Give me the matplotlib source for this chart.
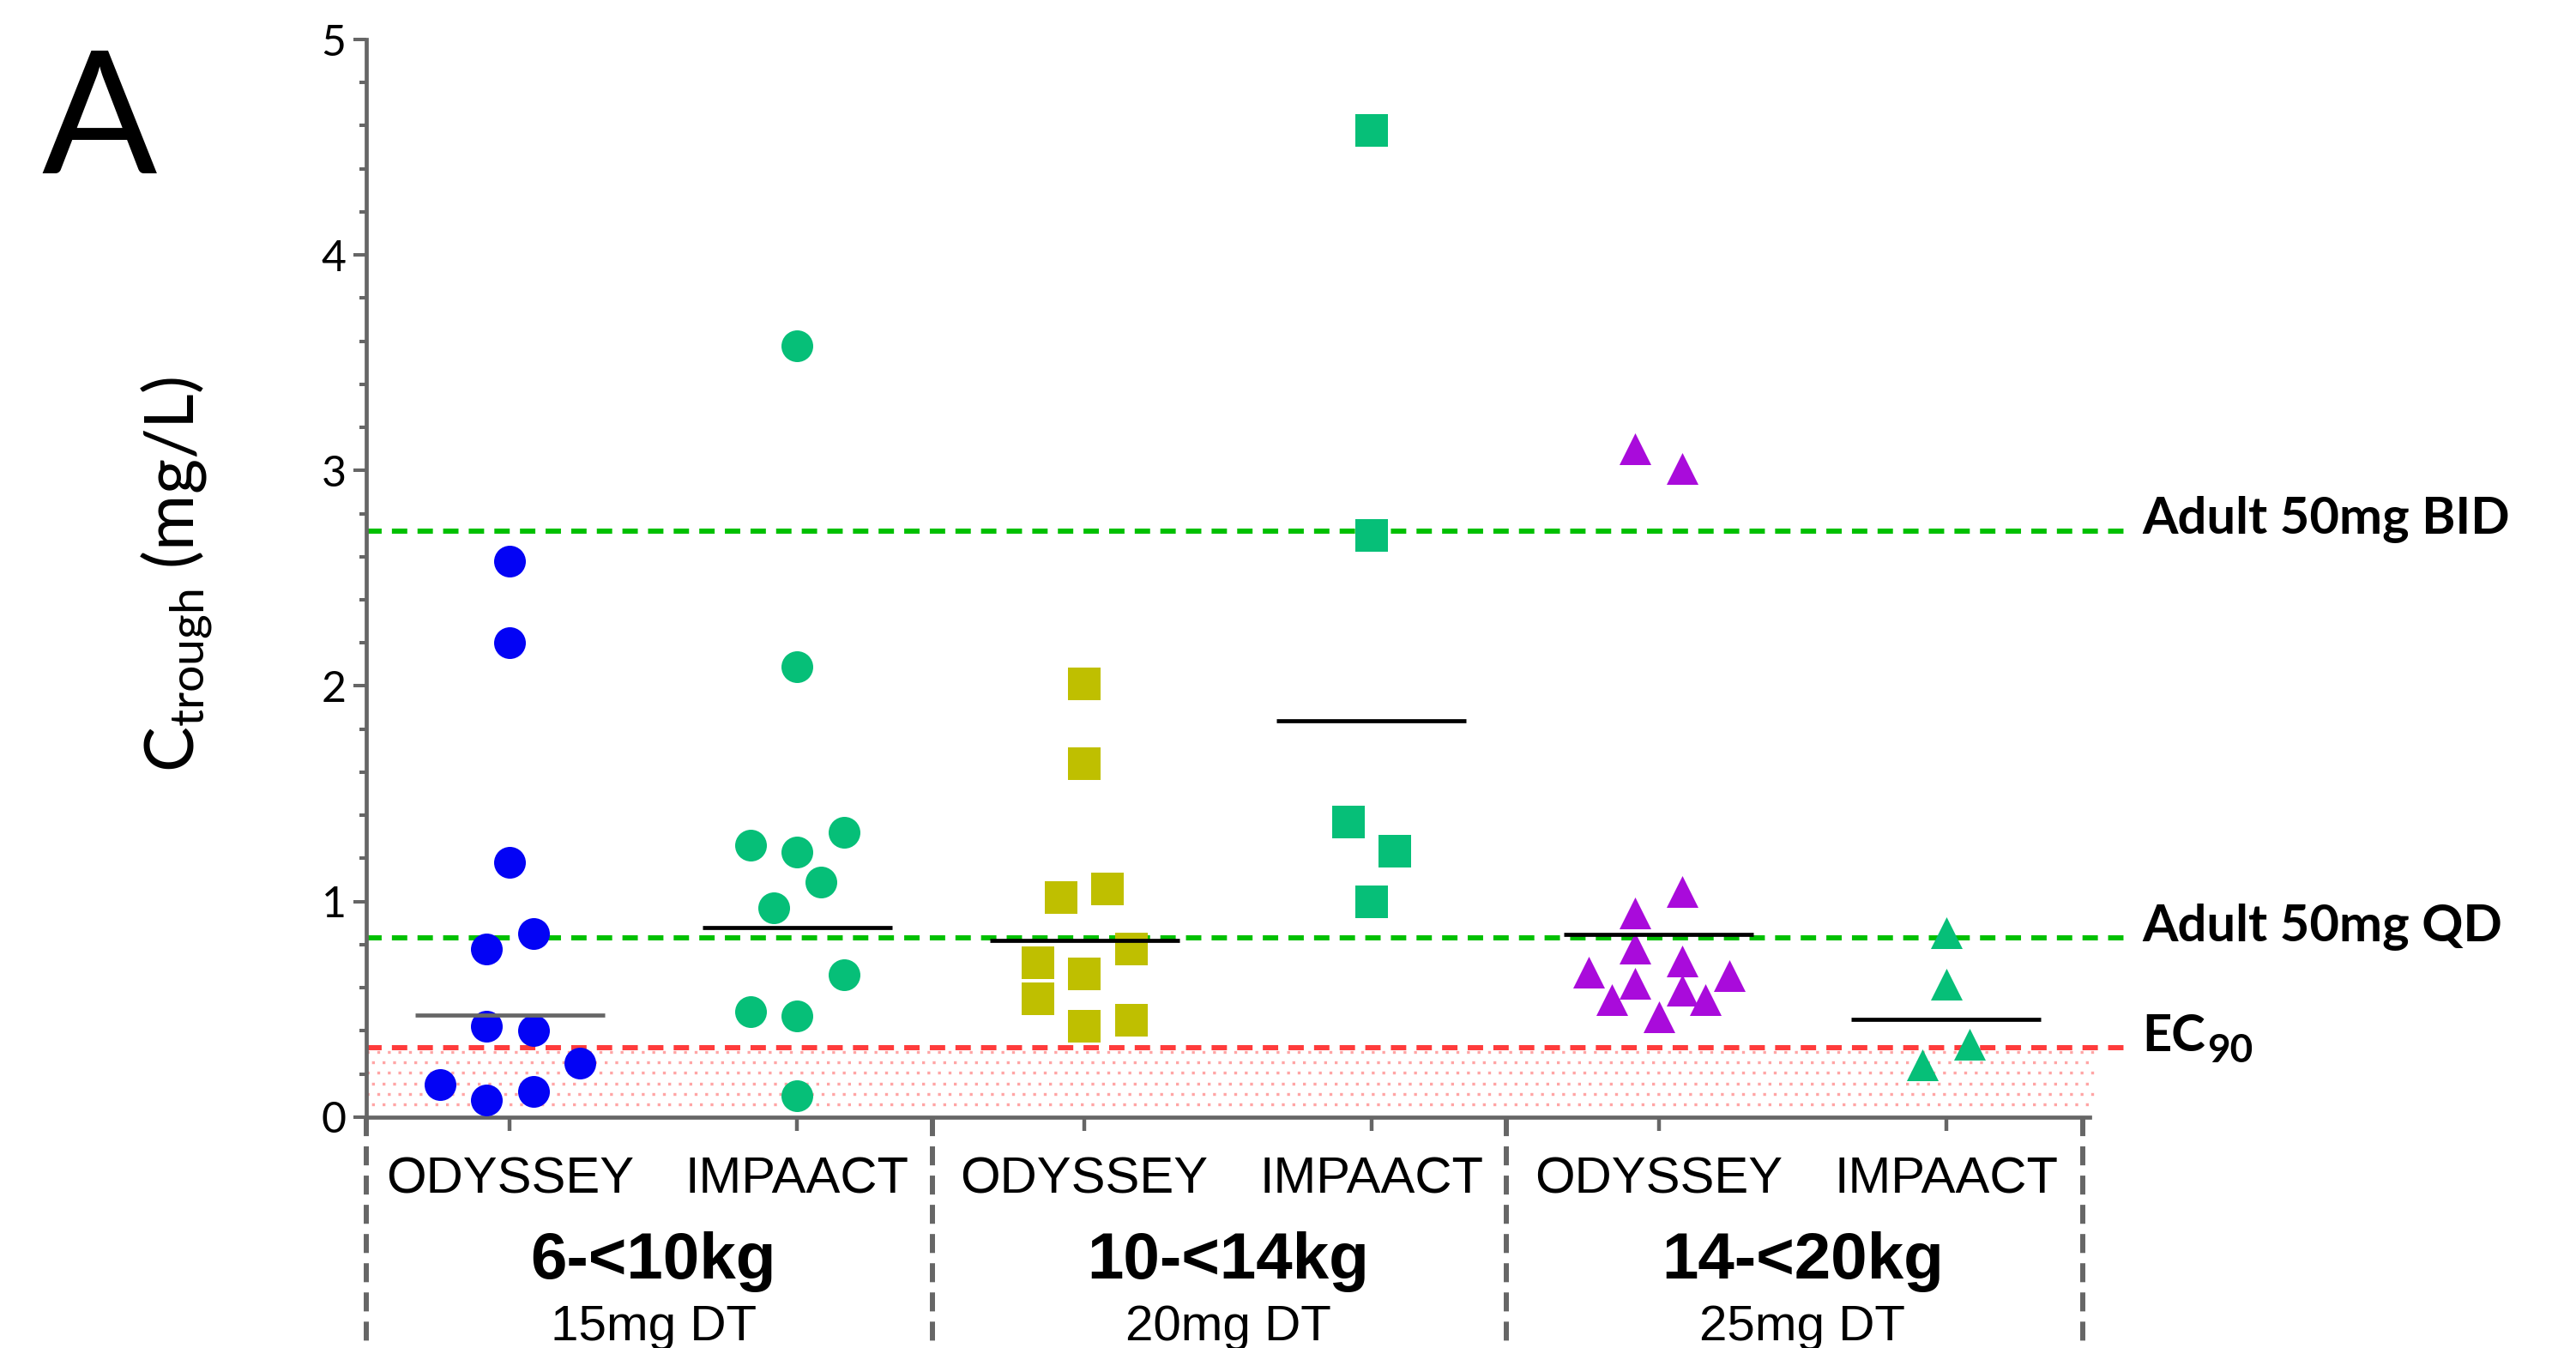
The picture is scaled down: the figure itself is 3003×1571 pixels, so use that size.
import numpy as np
import matplotlib
matplotlib.use("Agg")
import matplotlib.pyplot as plt
from matplotlib import transforms

plt.rcParams["mathtext.fontset"] = "custom"
plt.rcParams["mathtext.rm"] = "Lato"
plt.rcParams["mathtext.bf"] = "Lato:bold"
plt.rcParams["mathtext.it"] = "Lato:italic"

# Ctrough values (mg/L) per study / weight band
ody_6_10 = [2.58, 2.20, 1.18, 0.85, 0.78, 0.42, 0.40, 0.25, 0.15, 0.08, 0.12]
imp_6_10 = [3.58, 2.09, 1.32, 1.26, 1.23, 1.09, 0.97, 0.66, 0.49, 0.47, 0.10]
ody_10_14 = [2.01, 1.64, 1.06, 1.02, 0.78, 0.715, 0.665, 0.55, 0.45, 0.42]
imp_10_14 = [4.58, 2.70, 1.37, 1.235, 1.00]
ody_14_20 = [3.10, 3.01, 1.046, 0.945, 0.783, 0.722, 0.673, 0.657, 0.621, 0.587,
             0.544, 0.543, 0.465]
imp_14_20 = [0.854, 0.615, 0.336, 0.241]

# horizontal jitter slot of each point (scatter-dot-plot layout)
ody_6_10_slot = [0, 0, 0, 1, -1, -1, 1, 3, -3, -1, 1]
imp_6_10_slot = [0, 0, 2, -2, 0, 1, -1, 2, -2, 0, 0]
ody_10_14_slot = [0, 0, 1, -1, 2, -2, 0, -2, 2, 0]
imp_10_14_slot = [0, 0, -1, 1, 0]
ody_14_20_slot = [-1, 1, 1, -1, -1, 1, -3, 3, -1, 1, -2, 2, 0]
imp_14_20_slot = [0, 0, 1, -1]

studies = ["ODYSSEY", "IMPAACT", "ODYSSEY", "IMPAACT", "ODYSSEY", "IMPAACT"]
bands = ["6-<10kg", "10-<14kg", "14-<20kg"]
doses = ["15mg DT", "20mg DT", "25mg DT"]

ref_labels = ["Adult 50mg BID", "Adult 50mg QD", "EC"]
ref_subs = ["", "", "90"]
ref_values = [2.72, 0.83, 0.32]

groups = [ody_6_10, imp_6_10, ody_10_14, imp_10_14, ody_14_20, imp_14_20]
slots = [ody_6_10_slot, imp_6_10_slot, ody_10_14_slot, imp_10_14_slot,
         ody_14_20_slot, imp_14_20_slot]
markers = ["o", "o", "s", "s", "^", "^"]
colors = ["#0303F5", "#06BF78", "#BFBF00", "#06BF78", "#A90BDB", "#06BF78"]
mean_colors = ["#666666", "black", "black", "black", "black", "black"]

fig = plt.figure(figsize=(30.03, 15.71), dpi=100)
ax = fig.add_axes([0.1422, 0.1714, 0.6690, 0.7993])
ax.set_xlim(-0.5, 5.5)
ax.set_ylim(0, 5)

# shaded (dotted) area below EC90
for k in range(6):
    yrow = ref_values[2] - 0.018 - 0.0487 * k
    off = 0 if k % 2 == 0 else 1.85
    ax.plot([-0.5, 5.52], [yrow, yrow], color="#FFA5A5", lw=2.4,
            ls=(off, (1, 2.7)), dash_capstyle="butt",
            clip_on=False, zorder=1)

# reference lines
ref_colors = ["#00C000", "#00C000", "#FF3B3B"]
for v, c in zip(ref_values, ref_colors):
    ax.plot([-0.5, 5.62], [v, v], color=c, lw=4.3, ls=(0, (3, 2)),
            dash_capstyle="butt", clip_on=False, zorder=2)

# points + geometric mean bars
step = 0.0815
for i, (vals, sl) in enumerate(zip(groups, slots)):
    xs = i + step * np.array(sl)
    ax.scatter(xs, vals, s=710, marker=markers[i], color=colors[i],
               linewidths=0, zorder=3, clip_on=False)
    gm = np.exp(np.mean(np.log(vals)))
    ax.plot([i - 0.33, i + 0.33], [gm, gm], color=mean_colors[i], lw=3.4,
            solid_capstyle="butt", zorder=4)

# axes styling
for s in ["top", "right"]:
    ax.spines[s].set_visible(False)
for s in ["left", "bottom"]:
    ax.spines[s].set_color("#666666")
    ax.spines[s].set_linewidth(3.4)

ax.set_yticks(range(6))
ax.set_yticks(np.arange(0, 5.01, 0.2), minor=True)
ax.tick_params(axis="y", which="major", length=10.8, width=2.9, color="#666666",
               labelsize=36, pad=6)
ax.tick_params(axis="y", which="minor", length=5.8, width=2.9, color="#666666")
for t in ax.get_yticklabels():
    t.set_fontfamily("Lato")
ax.set_xticks(range(6))
ax.tick_params(axis="x", length=11.5, width=3.2, color="#666666", labelbottom=False)

# group separators below the axis
for xs in [-0.5, 1.47, 3.47, 5.475]:
    ax.plot([xs, xs], [0, -1.1], color="#666666", lw=4.3, ls=(0, (3.7, 2)),
            dash_capstyle="butt", clip_on=False, zorder=2)

tr = transforms.blended_transform_factory(ax.transData, fig.transFigure)
for i, name in enumerate(studies):
    fig.text(i, 0.1146, name, transform=tr, ha="center", va="baseline",
             fontsize=43, family="Liberation Sans")
for j, (b, d) in enumerate(zip(bands, doses)):
    fig.text(2 * j + 0.5, 0.0516, b, transform=tr, ha="center", va="baseline",
             fontsize=55, fontweight="bold", family="Liberation Sans")
    fig.text(2 * j + 0.5, 0.0057, d, transform=tr, ha="center", va="baseline",
             fontsize=42, family="Liberation Sans")

# reference line labels
for lab, sub, v in zip(ref_labels, ref_subs, ref_values):
    t = ax.text(5.684, v - 0.015, lab, ha="left", va="baseline", fontsize=43,
                fontweight="bold", family="Lato", clip_on=False)
    if sub:
        ax.annotate(sub, xy=(1, 0), xycoords=t, xytext=(1, -2),
                    textcoords="offset points", ha="left", va="baseline",
                    fontsize=33, fontweight="bold", family="Lato")

# y label and panel letter
fig.text(0.0683, 0.574, r"$\mathrm{C_{trough}}$ (mg/L)", rotation=90,
         ha="center", va="center", fontsize=57, family="Lato")
fig.text(48 / 3003, 1 - 201.5 / 1571, "A", ha="left", va="baseline",
         fontsize=143, family="Lato")

fig.savefig("out.png", dpi=100)
